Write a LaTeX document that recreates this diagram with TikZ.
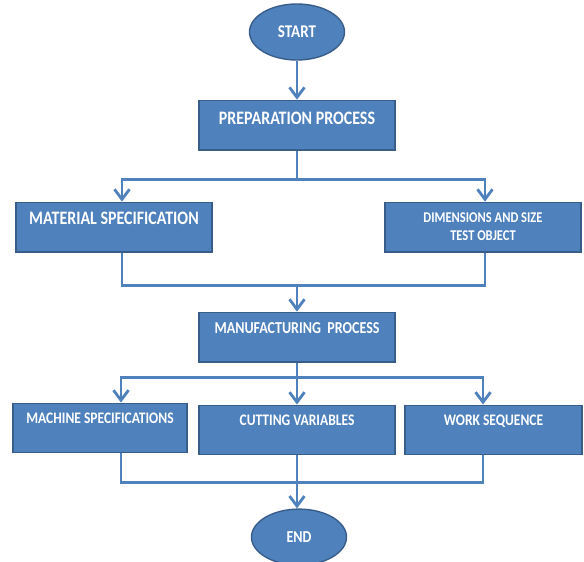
\documentclass[tikz,border=0pt]{standalone}
\usepackage{fontspec}
\setmainfont{Carlito}[FakeStretch=0.84]
\usepackage{tikz}
\usetikzlibrary{arrows.meta,positioning,shapes.geometric,calc}
\usepackage{xcolor}
\definecolor{flowblue}{RGB}{79,129,189}
\definecolor{flowedge}{RGB}{56,93,138}
\tikzset{
    blk/.style={rectangle, draw=flowedge, fill=flowblue, line width=1.4pt,
                minimum height=49.5pt, minimum width=#1, align=center,
                text=white, inner sep=0pt},
    oval/.style={ellipse, draw=flowedge, fill=flowblue, line width=1.4pt,
                 minimum width=95pt, minimum height=56pt, text=white,
                 inner sep=0pt},
    fsz/.style={font=\bfseries\fontsize{#1}{#1}\selectfont},
    up/.style={text height=12pt, text depth=#1},
    up/.default=14pt,
    conn/.style={draw=flowblue, line width=2.8pt},
    arr/.style={conn, -{Straight Barb[length=10pt, width=15pt]}},
}
\begin{document}
\begin{tikzpicture}[x=1pt, y=1pt, node distance=40pt]
    \useasboundingbox (0,0) rectangle (584,-562);

    % top part
    \node[oval, fsz=17.9]                                (start) at (297,-32) {START};
    \node[blk=196pt, fsz=19, up, below=39pt of start]     (prep)  {PREPARATION PROCESS};
    \node[blk=196pt, fsz=19, up=17pt, below=51pt of prep, xshift=-183pt] (mat)
        {MATERIAL SPECIFICATION};
    \node[blk=196pt, fsz=14.9, below=51pt of prep, xshift=186pt]    (dim)
        {DIMENSIONS AND SIZE\\[3pt]TEST OBJECT};

    % middle part
    \node[blk=196pt, fsz=16.7, up=19pt, below=161pt of prep] (manu) {MANUFACTURING\ \ PROCESS};
    \node[blk=174pt, fsz=16.1, up=20pt, below=40pt of manu, xshift=-197pt] (mach)
        {MACHINE SPECIFICATIONS};
    \node[blk=196pt, fsz=16.1, up=20pt, below=42pt of manu] (cut)  {CUTTING VARIABLES};
    \node[blk=177pt, fsz=16.1, up=20pt, below=42pt of manu, xshift=196.5pt] (work)
        {WORK SEQUENCE};
    \node[oval, fsz=16.7, below=53pt of cut, xshift=2pt] (end)   {END};

    % connectors
    \draw[arr] (start) -- (prep);
    \draw[conn] (prep.south) -- ++(0,-29) coordinate (split1);
    \draw[arr] (split1) -| ([xshift=8pt]mat.north);
    \draw[arr] (split1) -| ([xshift=2pt]dim.north);

    \coordinate[above=26pt of manu] (merge1);
    \draw[conn] ([xshift=8pt]mat.south) |- (merge1) -| ([xshift=2pt]dim.south);
    \draw[arr] (merge1) -- (manu);

    \draw[conn] (manu.south) -- ++(0,-15) coordinate (split2);
    \draw[arr] (split2) -| ([xshift=21pt]mach.north);
    \draw[arr] (split2) -- (cut.north);
    \draw[arr] (split2) -| ([xshift=-10.5pt]work.north);

    \coordinate[below=27pt of cut] (merge2);
    \draw[conn] ([xshift=21pt]mach.south) |- (merge2) -| ([xshift=-10.5pt]work.south);
    \draw[arr] (cut.south) -- (cut.south |- end.north);
\end{tikzpicture}
\end{document}
